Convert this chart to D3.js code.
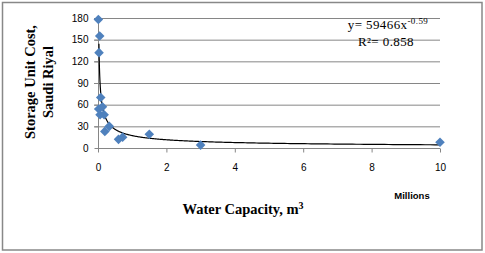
<!DOCTYPE html>
<html><head><meta charset="utf-8">
<script src="https://cdn.jsdelivr.net/npm/d3@7"></script>
<style>body{margin:0;background:#fff}svg{display:block}</style>
</head><body>
<svg id="c" width="485" height="253"></svg>
<script>
// data (water capacity in millions m3, unit cost in Saudi Riyal)
const capacity = [0.01, 0.05, 0.03, 0.08, 0.02, 0.13, 0.06, 0.18, 0.2, 0.33, 0.6, 0.72, 1.5, 3.0, 10.0];
const unitCost = [178, 155, 132, 70, 54, 57, 46, 46, 23, 30, 12, 15, 19, 4, 8];
const xTicks = [0, 2, 4, 6, 8, 10];
const yTicks = [0, 30, 60, 90, 120, 150, 180];
const trendA = 59466, trendB = -0.59; // y = a * x^b, x in m3
const trendStart = 0.027, trendEnd = 10;
const eqText = "y= 59466x", eqExp = "-0.59", r2Text = "R\u00b2= 0.858";

const svg = d3.select("#c");
svg.append("rect").attr("x",2.5).attr("y",2.5).attr("width",479.5).attr("height",247.5)
  .attr("fill","#fff").attr("stroke","#888").attr("stroke-width",1.5);

const x = d3.scaleLinear().domain([0,10]).range([98,440]);
const y = d3.scaleLinear().domain([0,180]).range([148,18]);

// gridlines
svg.append("g").selectAll("line").data(yTicks.filter(d=>d>0)).join("line")
  .attr("x1",x(0)-4).attr("x2",x(10)).attr("y1",d=>y(d)+0.5).attr("y2",d=>y(d)+0.5)
  .attr("stroke","#868686").attr("stroke-width",1);

// y axis
const ya = svg.append("g").attr("transform",`translate(${x(0)+0.5},0)`)
  .call(d3.axisLeft(y).tickValues(yTicks).tickSize(4).tickPadding(6));
// x axis
const xa = svg.append("g").attr("transform",`translate(0,${y(0)+0.5})`)
  .call(d3.axisBottom(x).tickValues(xTicks).tickSize(4).tickPadding(11));
[ya,xa].forEach(a=>{
  a.select(".domain").attr("stroke","#868686");
  a.selectAll(".tick line").attr("stroke","#868686");
  a.selectAll("text").attr("font-family","'Liberation Sans', Arial, sans-serif")
   .attr("font-size","10px").attr("fill","#000");
});
xa.select(".domain").attr("d",`M${x(0)},0H${x(10)}`);
ya.select(".domain").attr("d",`M0,${y(0)}V${y(180)}`);

// trendline
const tx = d3.range(0, 401).map(i => trendStart * Math.pow(trendEnd/trendStart, i/400));
const line = d3.line().x(d=>x(d)).y(d=>y(trendA*Math.pow(d*1e6,trendB)));
svg.append("path").datum(tx).attr("d",line).attr("fill","none")
  .attr("stroke","#000").attr("stroke-width",1.2);

// points (diamonds)
const sym = d3.symbol().type(d3.symbolSquare).size(46);
svg.append("g").selectAll("path").data(capacity.map((c,i)=>[c,unitCost[i]])).join("path")
  .attr("d",sym).attr("transform",d=>`translate(${x(d[0])},${y(d[1])}) rotate(45)`)
  .attr("fill","#4f81bd");

// equation
const eq = svg.append("text").attr("x",388).attr("y",29).attr("text-anchor","middle")
  .attr("font-family","'Liberation Serif', 'Times New Roman', serif").attr("font-size","13px")
  .attr("letter-spacing","0.4px");
eq.append("tspan").text(eqText);
eq.append("tspan").attr("dy",-5).attr("font-size","9px").text(eqExp);
svg.append("text").attr("x",386).attr("y",46).attr("text-anchor","middle")
  .attr("font-family","'Liberation Serif', 'Times New Roman', serif").attr("font-size","13px")
  .attr("letter-spacing","0.4px").text(r2Text);

// axis titles
const yt = svg.append("text").attr("transform","translate(0,82) rotate(-90)")
  .attr("text-anchor","middle").attr("font-family","'Liberation Serif', 'Times New Roman', serif")
  .attr("font-weight","bold").attr("font-size","14.5px");
yt.append("tspan").attr("x",0).attr("y",35).text("Storage Unit Cost,");
yt.append("tspan").attr("x",0).attr("y",53).text("Saudi Riyal");

svg.append("text").attr("x",412).attr("y",199).attr("text-anchor","middle")
  .attr("font-family","'Liberation Sans', Arial, sans-serif").attr("font-weight","bold")
  .attr("font-size","9.5px").text("Millions");

const xt = svg.append("text").attr("x",243).attr("y",214).attr("text-anchor","middle")
  .attr("font-family","'Liberation Serif', 'Times New Roman', serif")
  .attr("font-weight","bold").attr("font-size","14.5px");
xt.append("tspan").text("Water Capacity, m");
xt.append("tspan").attr("dy",-5).attr("font-size","10px").text("3");
</script>
</body></html>
